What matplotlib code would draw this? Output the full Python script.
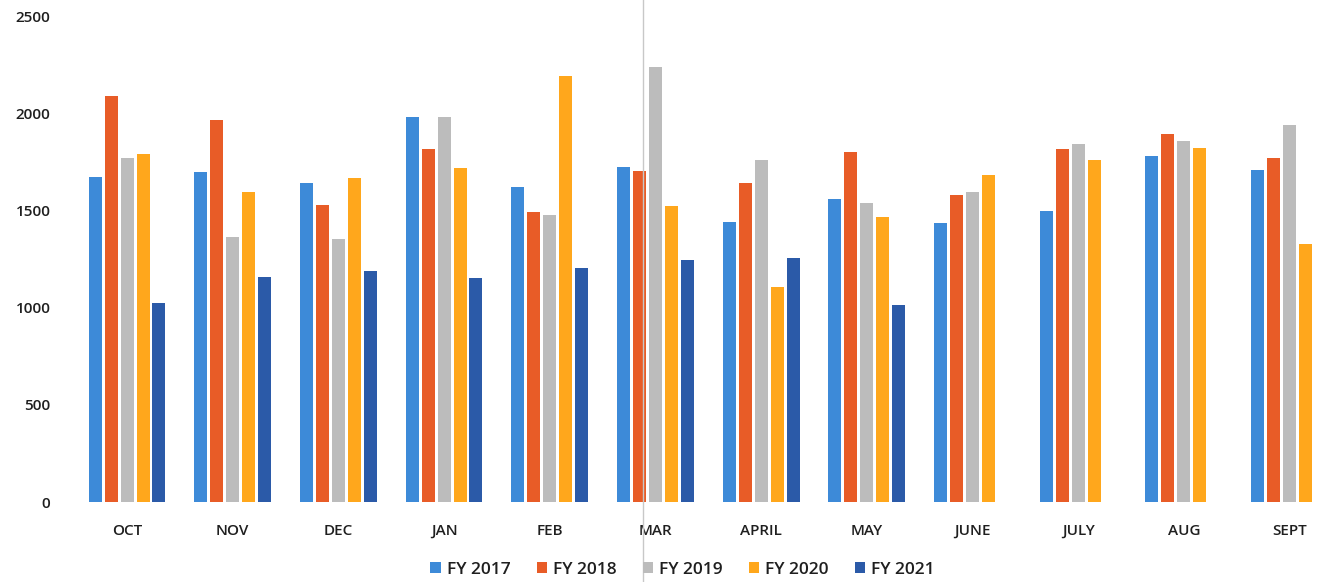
import numpy as np
import matplotlib.pyplot as plt
from matplotlib.lines import Line2D

# Monthly values per fiscal year
months = ['OCT', 'NOV', 'DEC', 'JAN', 'FEB', 'MAR', 'APRIL', 'MAY', 'JUNE', 'JULY', 'AUG', 'SEPT']
fy2017 = [1677, 1699, 1643, 1986, 1625, 1729, 1445, 1562, 1440, 1500, 1784, 1711]
fy2018 = [2093, 1969, 1531, 1818, 1497, 1708, 1646, 1803, 1582, 1821, 1895, 1775]
fy2019 = [1772, 1368, 1354, 1986, 1479, 2244, 1763, 1540, 1596, 1844, 1861, 1942]
fy2020 = [1794, 1598, 1672, 1722, 2196, 1526, 1110, 1471, 1684, 1763, 1825, 1328]
fy2021 = [1027, 1158, 1192, 1156, 1204, 1247, 1260, 1014, np.nan, np.nan, np.nan, np.nan]

series = [fy2017, fy2018, fy2019, fy2020, fy2021]
labels = ['FY 2017', 'FY 2018', 'FY 2019', 'FY 2020', 'FY 2021']
colors = ['#3d8ad8', '#e85c27', '#bcbcbc', '#ffa71c', '#2b5aa8']

plt.rcParams['font.family'] = ['Open Sans', 'DejaVu Sans']

fig = plt.figure(figsize=(13.18, 5.82), dpi=100)
ax = fig.add_axes([70 / 1318, 80 / 582, 1248 / 1318, 485 / 582])

x = np.arange(len(months))
step = 0.151
width = 0.123
for i, (vals, lab, col) in enumerate(zip(series, labels, colors)):
    ax.bar(x + (i - 2) * step, vals, width=width, color=col, label=lab)

ax.set_xlim(-0.54, 11.27)
ax.set_ylim(0, 2500)
ax.set_yticks([0, 500, 1000, 1500, 2000, 2500])
ax.set_xticks(x)
ax.set_xticklabels(months)

for s in ax.spines.values():
    s.set_visible(False)
ax.tick_params(axis='both', length=0, labelsize=11, labelcolor='#1f1f1f')
ax.tick_params(axis='x', pad=16)
ax.tick_params(axis='y', pad=14)
for t in ax.get_xticklabels() + ax.get_yticklabels():
    t.set_fontweight('semibold')

leg = fig.legend(loc='lower center', bbox_to_anchor=(0.518, -0.02), ncol=5, frameon=False,
                 fontsize=12.5, handlelength=0.6, handleheight=0.6, handletextpad=0.35,
                 columnspacing=1.5)
for t in leg.get_texts():
    t.set_fontweight('semibold')
    t.set_color('#1f1f1f')

# faint vertical crease from the scanned page
fig.add_artist(Line2D([643 / 1318, 643 / 1318], [0, 1], color='#c8c8c8', lw=1.0))

fig.savefig('out.png', dpi=100)
